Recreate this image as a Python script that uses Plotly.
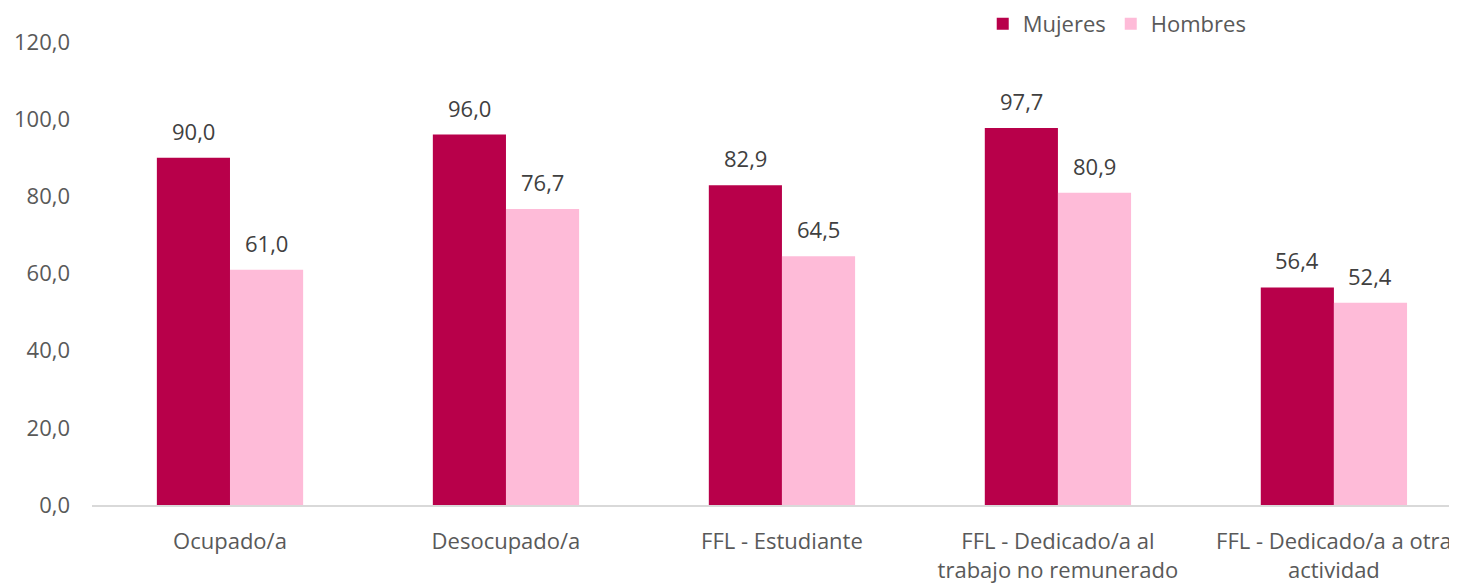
import plotly.graph_objects as go

categories = ["Ocupado/a", "Desocupado/a", "FFL - Estudiante",
              "FFL - Dedicado/a al<br>trabajo no remunerado",
              "FFL - Dedicado/a a otra<br>actividad"]
mujeres = [90.0, 96.0, 82.9, 97.7, 56.4]
hombres = [61.0, 76.7, 64.5, 80.9, 52.4]
y_ticks = [0, 20, 40, 60, 80, 100, 120]

FONT = "Open Sans, Noto Sans, sans-serif"
FS = 22
BARGAP = 0.47

fig = go.Figure()
fig.add_trace(go.Bar(
    name="Mujeres", x=categories, y=mujeres,
    marker=dict(color="#B8004A", line=dict(width=0)),
))
fig.add_trace(go.Bar(
    name="Hombres", x=categories, y=hombres,
    marker=dict(color="#FEBBD8", line=dict(width=0)),
))

half = (1 - BARGAP) / 4
annotations = []
for i, (m, h) in enumerate(zip(mujeres, hombres)):
    for off, v in ((-half, m), (half, h)):
        annotations.append(dict(
            x=i + off, y=v, xref="x", yref="y",
            text=f"{v:.1f}".replace(".", ","), showarrow=False,
            yanchor="bottom", yshift=10,
            font=dict(family=FONT, size=FS, color="#404040"),
        ))

fig.update_layout(
    width=1457, height=585,
    separators=",.",
    barmode="group",
    bargap=BARGAP, bargroupgap=0,
    plot_bgcolor="white", paper_bgcolor="white",
    margin=dict(l=84, r=8, t=34, b=88, autoexpand=False),
    font=dict(family=FONT, size=FS, color="#595959"),
    annotations=annotations,
    legend=dict(orientation="h", xref="container", yref="container",
                x=0.669, y=1 - 16 / 585, xanchor="left", yanchor="middle",
                font=dict(family=FONT, size=FS, color="#595959"),
                itemwidth=30, traceorder="normal"),
    xaxis=dict(range=[-0.5, 4.446], showgrid=False, showline=True,
               linecolor="#D9D9D9", linewidth=1.5, ticks="", automargin=False,
               ticklabelstandoff=16,
               tickfont=dict(family=FONT, size=FS, color="#595959")),
    yaxis=dict(range=[0, 120], tickvals=y_ticks, tickformat=".1f",
               showgrid=False, zeroline=False, showline=False, automargin=False,
               ticks="", ticklen=0, ticklabelstandoff=21,
               tickfont=dict(family=FONT, size=FS, color="#595959")),
)

fig.write_html("out.html")
